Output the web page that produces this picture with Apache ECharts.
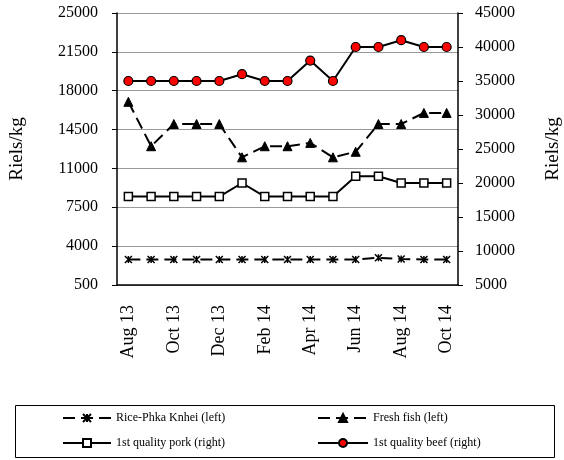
<!DOCTYPE html>
<html>
<head>
<meta charset="utf-8">
<script src="https://cdn.jsdelivr.net/npm/echarts@6/dist/echarts.min.js"></script>
<style>
  html, body { margin: 0; padding: 0; background: #fff; }
  #main { width: 564px; height: 460px; }
</style>
</head>
<body>
<div id="main"></div>
<script>
// months, Aug 13 .. Oct 14
var months = ['Aug 13', 'Sep 13', 'Oct 13', 'Nov 13', 'Dec 13', 'Jan 14', 'Feb 14', 'Mar 14',
  'Apr 14', 'May 14', 'Jun 14', 'Jul 14', 'Aug 14', 'Sep 14', 'Oct 14'];

// left axis (Riels/kg)
var rice = [2800, 2800, 2800, 2800, 2800, 2800, 2800, 2800, 2800, 2800, 2800, 2950, 2850, 2800, 2800];
var fish = [17000, 13000, 15000, 15000, 15000, 12000, 13000, 13000, 13300, 12000, 12500, 15000, 15000, 16000, 16000];

// right axis (Riels/kg)
var pork = [18000, 18000, 18000, 18000, 18000, 20000, 18000, 18000, 18000, 18000, 21000, 21000, 20000, 20000, 20000];
var beef = [35000, 35000, 35000, 35000, 35000, 36000, 35000, 35000, 38000, 35000, 40000, 40000, 41000, 40000, 40000];

var names = ['Rice-Phka Knhei (left)', 'Fresh fish (left)', '1st quality pork (right)', '1st quality beef (right)'];

var font = 'Liberation Serif, Times New Roman, serif';
var asterisk = 'path://M0,0L10,10M10,0L0,10M5,0L5,10';
var plain = function (v) { return String(v); };

var myChart = echarts.init(document.getElementById('main'));

var legendText = { fontFamily: font, fontSize: 12, color: '#000' };

var option = {
  animation: false,
  backgroundColor: '#fff',
  textStyle: { fontFamily: font, color: '#000' },
  grid: { left: 117, right: 106, top: 13, bottom: 175, outerBoundsMode: 'none' },
  legend: [
    {
      data: [names[0], names[2]],
      orient: 'vertical',
      left: 57, top: 407,
      itemWidth: 48, itemHeight: 10, itemGap: 13,
      textStyle: legendText
    },
    {
      data: [names[1], names[3]],
      orient: 'vertical',
      left: 312, top: 407,
      itemWidth: 50, itemHeight: 10, itemGap: 13,
      textStyle: legendText
    }
  ],
  graphic: [{
    type: 'rect',
    left: 13, top: 403,
    shape: { width: 539, height: 52 },
    style: { fill: 'none', stroke: '#000', lineWidth: 1 }
  }],
  xAxis: {
    type: 'category',
    data: months,
    boundaryGap: true,
    axisLine: { lineStyle: { color: '#000', width: 1.5 } },
    axisTick: { interval: 1, length: 5, lineStyle: { color: '#000' } },
    axisLabel: { interval: 1, rotate: 90, fontSize: 18, color: '#000', fontFamily: font, margin: 20 }
  },
  yAxis: [
    {
      type: 'value',
      min: 500, max: 25000, interval: 3500,
      name: 'Riels/kg', nameLocation: 'middle', nameRotate: 90, nameGap: 90,
      nameTextStyle: { fontFamily: font, fontSize: 19, color: '#000' },
      axisLine: { show: true, lineStyle: { color: '#000', width: 1.5 } },
      axisTick: { show: true, length: 5, lineStyle: { color: '#000' } },
      axisLabel: { fontSize: 16, color: '#000', fontFamily: font, margin: 19, formatter: plain },
      splitLine: { show: true, lineStyle: { color: '#999', width: 1 } }
    },
    {
      type: 'value',
      position: 'right',
      min: 5000, max: 45000, interval: 5000,
      name: 'Riels/kg', nameLocation: 'middle', nameRotate: 90, nameGap: 86,
      nameTextStyle: { fontFamily: font, fontSize: 19, color: '#000' },
      axisLine: { show: true, lineStyle: { color: '#000', width: 1.5 } },
      axisTick: { show: true, length: 5, lineStyle: { color: '#000' } },
      axisLabel: { fontSize: 16, color: '#000', fontFamily: font, margin: 17, formatter: plain },
      splitLine: { show: false }
    }
  ],
  series: [
    {
      name: names[0], type: 'line', yAxisIndex: 0, data: rice,
      symbol: asterisk, symbolSize: 7,
      lineStyle: { color: '#000', width: 2, type: [12, 6] },
      itemStyle: { color: '#000', borderColor: '#000', borderWidth: 1.5 }
    },
    {
      name: names[1], type: 'line', yAxisIndex: 0, data: fish,
      symbol: 'triangle', symbolSize: 9,
      lineStyle: { color: '#000', width: 2, type: [12, 6] },
      itemStyle: { color: '#000', borderColor: '#000', borderWidth: 1 }
    },
    {
      name: names[2], type: 'line', yAxisIndex: 1, data: pork,
      symbol: 'rect', symbolSize: 8,
      lineStyle: { color: '#000', width: 2 },
      itemStyle: { color: '#fff', borderColor: '#000', borderWidth: 1.5 }
    },
    {
      name: names[3], type: 'line', yAxisIndex: 1, data: beef,
      symbol: 'circle', symbolSize: 9,
      lineStyle: { color: '#000', width: 2 },
      itemStyle: { color: '#ff0000', borderColor: '#000', borderWidth: 1.2 }
    }
  ]
};

myChart.setOption(option);
</script>
</body>
</html>
